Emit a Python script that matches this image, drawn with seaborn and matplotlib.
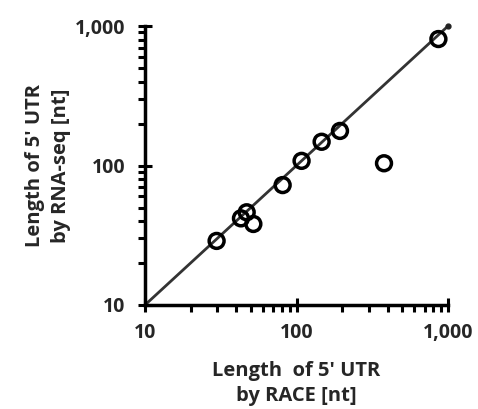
import matplotlib
matplotlib.use("Agg")
import matplotlib.pyplot as plt
import seaborn as sns
import pandas as pd
from matplotlib.ticker import FixedLocator, FixedFormatter, LogLocator, NullFormatter

race_nt = [29.7, 43, 46.9, 51.9, 81, 108, 146.5, 193.6, 378, 864]
rnaseq_nt = [28.8, 41.8, 46.2, 38.1, 72.4, 108, 148, 177, 103.8, 807]
diag = [10, 1000]
tick_vals = [10, 100, 1000]
tick_labels = ["10", "100", "1,000"]

sns.set_theme(style="white")
plt.rcParams['font.family'] = ['Open Sans', 'DejaVu Sans']

fig = plt.figure(figsize=(4.78, 4.09), dpi=100)
ax = fig.add_axes([0.3033, 0.2543, 0.634, 0.682])

df = pd.DataFrame({"race": race_nt, "rna": rnaseq_nt})
dd = pd.DataFrame({"x": diag, "y": diag})
sns.lineplot(data=dd, x="x", y="y", ax=ax, color="#333333", linewidth=2, zorder=2)
ax.plot([1000], [1000], marker="o", color="#222222", markersize=3.5, zorder=3, clip_on=False)
sns.scatterplot(data=df, x="race", y="rna", ax=ax, marker="o", s=115,
                facecolor="none", edgecolor="black", linewidth=2.5, zorder=4)

ax.set_xscale("log")
ax.set_yscale("log")
ax.set_xlim(10, 1000)
ax.set_ylim(10, 1000)

for a in (ax.xaxis, ax.yaxis):
    a.set_major_locator(FixedLocator(tick_vals))
    a.set_major_formatter(FixedFormatter(tick_labels))
    a.set_minor_locator(LogLocator(base=10, subs=range(2, 10)))
    a.set_minor_formatter(NullFormatter())

for s in ["top", "right"]:
    ax.spines[s].set_visible(False)
for s in ["left", "bottom"]:
    ax.spines[s].set_linewidth(2.5)
    ax.spines[s].set_color("black")

ax.tick_params(which="major", direction="inout", length=10, width=2.2, color="black",
               labelsize=14)
ax.tick_params(axis="x", which="major", pad=8)
ax.tick_params(axis="y", which="major", pad=9)
ax.tick_params(which="minor", direction="out", length=5, width=2.2, color="black")
ax.tick_params(axis="both", which="both", bottom=True, left=True)
for lab in ax.get_xticklabels() + ax.get_yticklabels():
    lab.set_fontweight("bold")

ax.set_xlabel("Length  of 5' UTR\nby RACE [nt]", fontsize=14.5, fontweight="bold", labelpad=13,
              linespacing=1.35)
ax.set_ylabel("Length of 5' UTR\nby RNA-seq [nt]", fontsize=14.5, fontweight="bold", labelpad=3,
              linespacing=1.38)

fig.savefig("out.png", dpi=100, facecolor="white")
